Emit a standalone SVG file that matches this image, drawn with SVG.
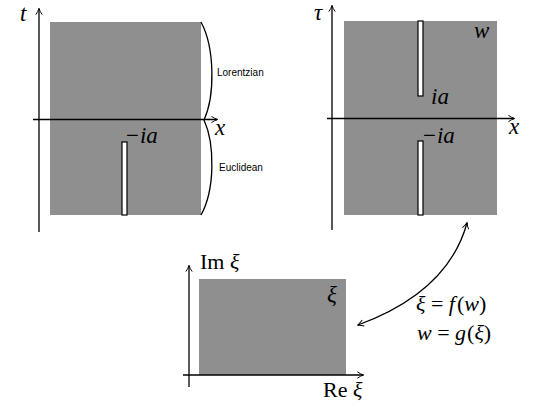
<svg xmlns="http://www.w3.org/2000/svg" width="545" height="409" viewBox="0 0 545 409">
<defs>
<marker id="arr" viewBox="0 0 10 10" refX="8" refY="5" markerWidth="8" markerHeight="8" markerUnits="userSpaceOnUse" orient="auto-start-reverse">
<path d="M1,1 Q5,4 9,5 Q5,6 1,9" fill="none" stroke="#000" stroke-width="1.2"/>
</marker>
<style>
.reg{fill:#8f8f8f;stroke:none}
.ax{stroke:#000;stroke-width:1.3;fill:none}
.slit{fill:#fff;stroke:#000;stroke-width:1.2}
.m{font-family:"Liberation Serif","DejaVu Serif",serif;font-style:italic;font-size:23px;fill:#000}
.r{font-family:"Liberation Serif","DejaVu Serif",serif;font-size:22px;fill:#000}
.s{font-family:"Liberation Sans",Arial,sans-serif;font-size:10px;fill:#000}
</style>
</defs>
<g id="panel-left">
<rect class="reg" x="50" y="22" width="151" height="193"/>
<rect class="slit" x="122" y="142" width="5" height="73"/>
<path class="ax" d="M201,22 C215,48 215,96 204,120 C215,144 215,190 201,215"/>
<text class="m" x="20" y="21">t</text>
<text class="m" x="215" y="135">x</text>
<text class="m" x="126" y="143"><tspan font-style="normal">−</tspan><tspan dx="1">ia</tspan></text>
<text class="s" x="217" y="76">Lorentzian</text>
<text class="s" x="219" y="171">Euclidean</text>
</g>
<g id="panel-right">
<rect class="reg" x="344" y="21" width="153" height="194"/>
<rect class="slit" x="418" y="21" width="5" height="75"/>
<rect class="slit" x="418" y="141" width="5" height="74"/>
<text class="m" x="314" y="20">τ</text>
<text class="m" x="474" y="38">w</text>
<text class="m" x="431" y="104">ia</text>
<text class="m" x="509" y="134">x</text>
<text class="m" x="423" y="143"><tspan font-style="normal">−</tspan><tspan dx="1">ia</tspan></text>
</g>
<g id="panel-bottom">
<rect class="reg" x="199" y="279" width="147" height="96"/>
<text class="r" x="200" y="269">Im <tspan font-style="italic">ξ</tspan></text>
<text class="m" x="327" y="302">ξ</text>
<text class="r" x="323" y="397">Re <tspan font-style="italic">ξ</tspan></text>
</g>
<g id="equations">
<text class="r" x="416" y="311"><tspan font-style="italic">ξ</tspan> = <tspan font-style="italic">f</tspan><tspan dx="2">(</tspan><tspan font-style="italic">w</tspan>)</text>
<text class="r" x="417" y="340"><tspan font-style="italic">w</tspan> = <tspan font-style="italic">g</tspan><tspan dx="1">(</tspan><tspan font-style="italic">ξ</tspan>)</text>
</g>
<g id="connectors">
<line class="ax" x1="39" y1="232" x2="39" y2="9" marker-end="url(#arr)"/>
<line class="ax" x1="33" y1="119.5" x2="217" y2="119.5" marker-end="url(#arr)"/>
<line class="ax" x1="332" y1="230" x2="332" y2="6" marker-end="url(#arr)"/>
<line class="ax" x1="327" y1="118.5" x2="514" y2="118.5" marker-end="url(#arr)"/>
<line class="ax" x1="189" y1="387" x2="189" y2="266" marker-end="url(#arr)"/>
<line class="ax" x1="183" y1="375" x2="363" y2="375" marker-end="url(#arr)"/>
<path class="ax" d="M467,223 Q448,292 358,325" marker-start="url(#arr)" marker-end="url(#arr)"/>
</g>
</svg>
